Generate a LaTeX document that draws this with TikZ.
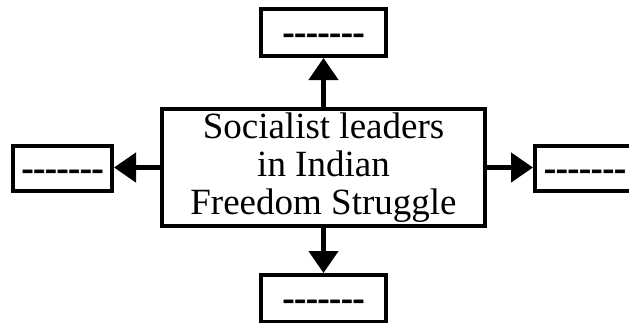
\documentclass[tikz,border=0pt]{standalone}
\usepackage{fontspec}
\setmainfont{Liberation Serif}
\newfontfamily\dashfont[FakeBold=1.5]{Liberation Serif Bold}
\usetikzlibrary{arrows.meta}
\newcommand{\blanks}{-{}-{}-{}-{}-{}-{}-}
\begin{document}
\begin{tikzpicture}[x=1pt,y=-1pt,
  box/.style={draw=black, line width=4pt, fill=white, inner sep=0pt, align=center},
  dashbox/.style={box, font=\fontsize{35}{40}\dashfont, text height=22pt, text depth=0pt},
  conn/.style={line width=4.5pt, -{Triangle[length=22pt,width=29pt]}}]
\useasboundingbox (0,0) rectangle (629,322);
\clip (0,0) rectangle (629,322);
\fill[white] (0,0) rectangle (629,322);
\node[box, minimum width=323pt, minimum height=117pt,
      font=\fontsize{37}{38}\selectfont] (c) at (323.5,167.5)
  {Socialist leaders\\in Indian\\Freedom Struggle};
\node[dashbox, minimum width=125pt, minimum height=47pt] (t) at (323.5,32.5) {\blanks};
\node[dashbox, minimum width=125pt, minimum height=47pt] (b) at (323.5,298.5) {\blanks};
\node[dashbox, minimum width=99pt, minimum height=45pt] (l) at (62.5,168.5) {\blanks};
\node[dashbox, minimum width=100pt, minimum height=45pt] (r) at (585,168.5) {\blanks};
\draw[conn] (c.north) -- (t.south);
\draw[conn] (c.south) -- (b.north);
\draw[conn] (c.west) -- (l.east |- c.west);
\draw[conn] (c.east) -- (r.west |- c.east);
\end{tikzpicture}
\end{document}
